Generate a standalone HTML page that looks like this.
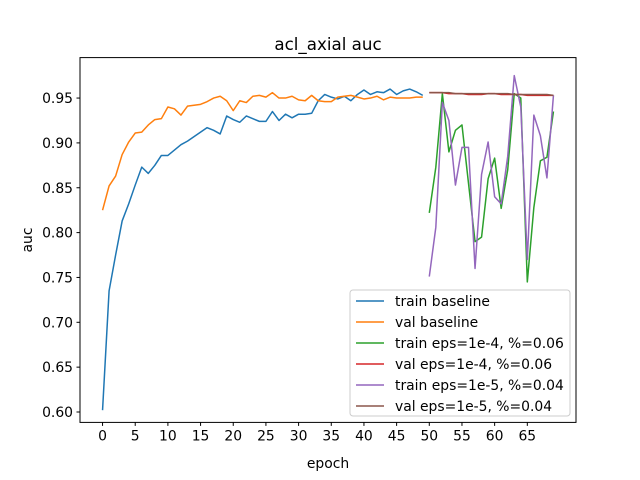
<!DOCTYPE html>
<html><head><meta charset="utf-8"><style>
body{margin:0;background:#fff}
svg{display:block;font-family:"DejaVu Sans","Liberation Sans",sans-serif}
</style></head><body>
<svg id="chart" width="640" height="480" viewBox="0 0 640 480" xmlns="http://www.w3.org/2000/svg">
<rect width="640" height="480" fill="#fff"/>
<text x="328" y="50" text-anchor="middle" font-size="16.7">acl_axial auc</text>
<g id="axes"></g>
<g id="series"></g>
<rect x="80" y="57.6" width="496" height="364.8" fill="none" stroke="#000" stroke-width="1"/>
<text x="328" y="468" text-anchor="middle" font-size="13.9">epoch</text>
<text transform="translate(32,240) rotate(-90)" text-anchor="middle" font-size="13.9">auc</text>
<g id="legend"></g>
</svg>
<script>
const trainBaseline=[0.602,0.735,0.775,0.813,0.832,0.853,0.873,0.866,0.875,0.886,0.886,0.892,0.898,0.902,0.907,0.912,0.917,0.914,0.910,0.930,0.926,0.923,0.930,0.927,0.924,0.924,0.935,0.925,0.932,0.928,0.932,0.932,0.933,0.947,0.954,0.951,0.949,0.952,0.947,0.954,0.959,0.954,0.957,0.956,0.960,0.954,0.958,0.960,0.957,0.953];
const valBaseline=[0.825,0.852,0.863,0.887,0.901,0.911,0.912,0.920,0.926,0.927,0.940,0.938,0.931,0.941,0.942,0.943,0.946,0.950,0.952,0.947,0.936,0.947,0.945,0.952,0.953,0.951,0.956,0.950,0.950,0.952,0.948,0.947,0.953,0.947,0.946,0.946,0.951,0.952,0.953,0.951,0.949,0.950,0.952,0.948,0.951,0.950,0.950,0.950,0.951,0.951];
const trainEps4=[0.822,0.873,0.955,0.890,0.914,0.920,0.855,0.790,0.795,0.860,0.883,0.827,0.870,0.955,0.950,0.745,0.828,0.880,0.884,0.935];
const valEps4=[0.956,0.956,0.956,0.955,0.955,0.955,0.954,0.954,0.954,0.955,0.955,0.954,0.954,0.954,0.954,0.953,0.953,0.953,0.953,0.953];
const trainEps5=[0.751,0.806,0.945,0.925,0.853,0.895,0.895,0.760,0.865,0.901,0.840,0.832,0.885,0.975,0.940,0.770,0.931,0.908,0.861,0.953];
const valEps5=[0.956,0.956,0.956,0.956,0.955,0.955,0.955,0.955,0.955,0.955,0.955,0.955,0.955,0.954,0.954,0.954,0.954,0.954,0.954,0.953];
const xTicks=[0,5,10,15,20,25,30,35,40,45,50,55,60,65];
const yTicks=[0.60,0.65,0.70,0.75,0.80,0.85,0.90,0.95];
const legendLabels=["train baseline","val baseline","train eps=1e-4, %=0.06","val eps=1e-4, %=0.06","train eps=1e-5, %=0.04","val eps=1e-5, %=0.04"];
const colors=["#1f77b4","#ff7f0e","#2ca02c","#d62728","#9467bd","#8c564b"];

const NS="http://www.w3.org/2000/svg";
const X0=80,X1=576,Y0=57.6,Y1=422.4;
const xmin=-3.45,xmax=72.45,ymin=0.5884,ymax=0.9951;
const xs=v=>X0+(v-xmin)/(xmax-xmin)*(X1-X0);
const ys=v=>Y1-(v-ymin)/(ymax-ymin)*(Y1-Y0);
function mk(tag,attrs,parent){const e=document.createElementNS(NS,tag);for(const k in attrs)e.setAttribute(k,attrs[k]);parent.appendChild(e);return e;}
const axes=document.getElementById('axes');
xTicks.forEach(t=>{
  const l=mk('line',{x1:xs(t),x2:xs(t),y1:Y1,y2:Y1+3.5,stroke:'#000'},axes);
  
  
  const tx=mk('text',{x:xs(t),y:Y1+18,'text-anchor':'middle','font-size':'13.9'},axes);
  tx.textContent=t;
  
  
});
yTicks.forEach(t=>{
  const l=mk('line',{x1:X0-3.5,x2:X0,y1:ys(t),y2:ys(t),stroke:'#000'},axes);
  
  
  const tx=mk('text',{x:X0-7,y:ys(t)+5,'text-anchor':'end','font-size':'13.9'},axes);
  tx.textContent=t.toFixed(2);
  
  
});
const seriesG=document.getElementById('series');
const all=[[trainBaseline,0],[valBaseline,0],[trainEps4,50],[valEps4,50],[trainEps5,50],[valEps5,50]];
const names=['train-baseline-line','val-baseline-line','train-eps4-line','val-eps4-line','train-eps5-line','val-eps5-line'];
all.forEach(([arr,off],i)=>{
  const pts=arr.map((v,j)=>xs(j+off).toFixed(2)+','+ys(v).toFixed(2)).join(' ');
  const p=mk('polyline',{points:pts,fill:'none',stroke:colors[i],'stroke-width':1.5,'stroke-linejoin':'round'},seriesG);
  
  
});
const lg=document.getElementById('legend');
const box=mk('rect',{x:350,y:290,width:220,height:126,rx:3,fill:'#fff','fill-opacity':0.8,stroke:'#ccc'},lg);


legendLabels.forEach((lab,i)=>{
  const y=301+i*21;
  const l=mk('line',{x1:356,x2:384,y1:y,y2:y,stroke:colors[i],'stroke-width':1.5},lg);
  
  
  const t=mk('text',{x:395,y:y+5,'font-size':'13.9'},lg);
  t.textContent=lab;
  
  
});
</script>
</body></html>
